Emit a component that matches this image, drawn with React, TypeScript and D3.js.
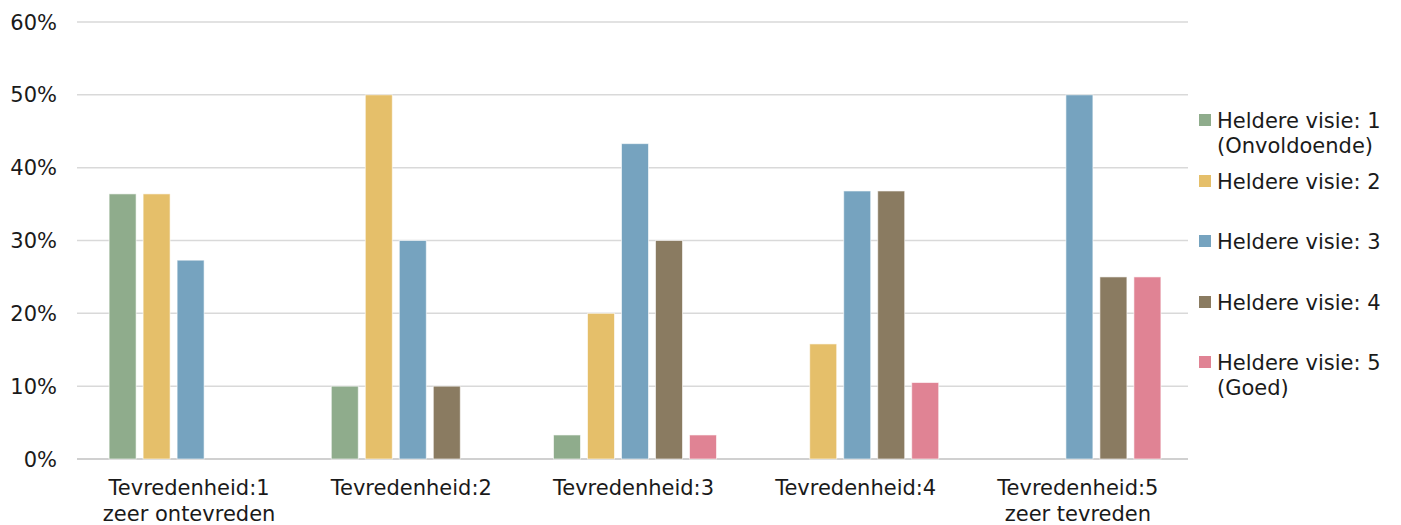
import React from "react";
import * as d3 from "d3";

const categories = ["Tevredenheid:1|zeer ontevreden", "Tevredenheid:2", "Tevredenheid:3", "Tevredenheid:4", "Tevredenheid:5|zeer tevreden"];
const seriesNames = ["Heldere visie: 1|(Onvoldoende)", "Heldere visie: 2", "Heldere visie: 3", "Heldere visie: 4", "Heldere visie: 5|(Goed)"];
const seriesColors = ["#8fac8c", "#e5bf6a", "#76a3bf", "#8a7b61", "#e08394"];
const visie1 = [36.4, 10, 3.3, 0, 0];
const visie2 = [36.4, 50, 20, 15.8, 0];
const visie3 = [27.3, 30, 43.3, 36.8, 50];
const visie4 = [0, 10, 30, 36.8, 25];
const visie5 = [0, 0, 3.3, 10.5, 25];
const yTicks = [0, 10, 20, 30, 40, 50, 60];

const seriesValues = [visie1, visie2, visie3, visie4, visie5];

const W = 1401;
const H = 525;
const left = 77;
const right = 1188;
const top = 22;
const bottom = 459;
const FONT = "'DejaVu Sans', Verdana, sans-serif";
const FS = 21;

export default function App() {
  const x = d3.scaleBand<number>().domain(d3.range(categories.length)).range([left, right]).padding(0);
  const groupSpan = 163;
  const xi = d3.scaleBand<number>().domain(d3.range(seriesNames.length)).range([0, groupSpan]).paddingInner(7 / 34).paddingOuter(0);
  const y = d3.scaleLinear().domain([0, 60]).range([bottom, top]);

  const legendRows = [120, 181, 241, 302, 362];

  return (
    <svg width={W} height={H} style={{ position: "absolute", left: 0, top: 0, background: "#fff" }} fontFamily={FONT}>
      {yTicks.map((t) => (
        <g key={t}>
          <line x1={left} x2={right} y1={y(t)} y2={y(t)} stroke={t === 0 ? "#d0d0d0" : "#d9d9d9"} strokeWidth={t === 0 ? 2 : 1.5} />
          <text x={57} y={y(t)} dy="0.36em" textAnchor="end" fontSize={FS} fill="#1a1a1a">{t}%</text>
        </g>
      ))}
      {seriesValues.map((vals, si) => (
        <g key={si}>
          {vals.map((v, ci) => {
            if (v <= 0) return null;
            const gx = (x(ci) as number) + (x.bandwidth() - groupSpan) / 2 + 2.5;
            return (
              <rect
                key={ci}
                x={gx + (xi(si) as number)}
                y={y(v)}
                width={xi.bandwidth()}
                height={bottom - y(v)}
                fill={seriesColors[si]}
                stroke="#ffffff"
                strokeOpacity={0.6}
                strokeWidth={1}
              />
            );
          })}
        </g>
      ))}
      {categories.map((c, ci) => {
        const cx = (x(ci) as number) + x.bandwidth() / 2 + 1;
        return (
          <text key={ci} x={cx} y={495} textAnchor="middle" fontSize={FS} fill="#1a1a1a">
            {c.split("|").map((line, li) => (
              <tspan key={li} x={cx} dy={li === 0 ? 0 : 26}>{line}</tspan>
            ))}
          </text>
        );
      })}
      {seriesNames.map((n, si) => {
        const cy = legendRows[si];
        return (
          <g key={si}>
            <rect x={1199} y={cy - 6} width={12} height={12} fill={seriesColors[si]} />
            <text x={1217} y={cy} fontSize={FS} fill="#1a1a1a">
              {n.split("|").map((line, li) => (
                <tspan key={li} x={1217} dy={li === 0 ? "0.36em" : 25}>{line}</tspan>
              ))}
            </text>
          </g>
        );
      })}
    </svg>
  );
}
